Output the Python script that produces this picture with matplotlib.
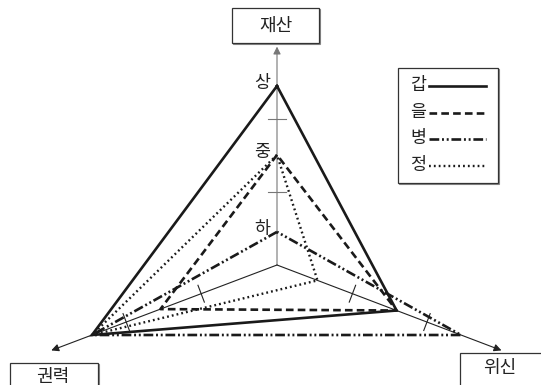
import numpy as np
import matplotlib.pyplot as plt
from matplotlib.patches import Rectangle, FancyArrowPatch

plt.rcParams['font.family'] = ['Noto Sans CJK KR', 'DejaVu Sans']
plt.rcParams['lines.scale_dashes'] = False

# ── Data ─────────────────────────────────────────────────────────────────────
axis_names = ['재산', '권력', '위신']
level_labels = ['하', '중', '상']
level_values = [0.185, 0.615, 1.0]
tick_values = [0.41, 0.815]

series_names = ['갑', '을', '병', '정']
# values on (재산, 권력, 위신), 1.0 = 상
gap_vals = [1.0, 1.0, 0.65]
eul_vals = [0.615, 0.63, 0.65]
byeong_vals = [0.185, 1.0, 1.0]
jeong_vals = [0.615, 1.0, 0.22]
series_vals = [gap_vals, eul_vals, byeong_vals, jeong_vals]

# ── Geometry (pixel space, y down) ───────────────────────────────────────────
W, H = 541, 385
CENTER = np.array([277.0, 265.0])
AXIS_FULL = [np.array([0.0, -179.0]),      # 재산 (up)
             np.array([-185.0, 70.0]),     # 권력 (lower left)
             np.array([184.0, 70.0])]      # 위신 (lower right)
ARROW_EXT = 1.22

STYLES = [
    dict(color='#1a1a1a', lw=1.9, ls='-'),
    dict(color='#1a1a1a', lw=1.9, ls=(0, (5.5, 3.0))),
    dict(color='#1a1a1a', lw=1.9, ls=(0, (7.0, 2.0, 1.4, 2.0, 1.4, 2.0))),
    dict(color='#1a1a1a', lw=1.7, ls=(0, (1.3, 2.2))),
]


def _pt(axis_i, v):
    return CENTER + v * AXIS_FULL[axis_i]


def _label_box(ax, x0, y0, x1, y1, text, tx, ty):
    # faint drop shadow on right/bottom
    ax.add_patch(Rectangle((x0 + 1, y0 + 1), x1 - x0, y1 - y0,
                           facecolor='none', edgecolor='#888888', lw=0.8, zorder=4))
    ax.add_patch(Rectangle((x0, y0), x1 - x0, y1 - y0,
                           facecolor='white', edgecolor='#333333', lw=0.9, zorder=5))
    ax.text(tx, ty, text, ha='center', va='center', fontsize=13,
            color='#222222', zorder=6)


fig = plt.figure(figsize=(W / 100, H / 100), dpi=100, facecolor='white')
ax = fig.add_axes([0, 0, 1, 1])
ax.set_xlim(0, W)
ax.set_ylim(H, 0)
ax.axis('off')

# ── Axes with arrows and tick marks ─────────────────────────────────────────
axis_colors = ['#777777', '#222222', '#222222']
for i in range(3):
    tip = _pt(i, ARROW_EXT)
    ax.add_patch(FancyArrowPatch(tuple(CENTER), tuple(tip),
                                 arrowstyle='-|>', mutation_scale=11,
                                 color=axis_colors[i], lw=0.8,
                                 shrinkA=0, shrinkB=0, zorder=1))
    d = AXIS_FULL[i] / np.linalg.norm(AXIS_FULL[i])
    perp = np.array([-d[1], d[0]])
    for tv in tick_values:
        p = _pt(i, tv)
        a, b = p - 9 * perp, p + 9 * perp
        ax.plot([a[0], b[0]], [a[1], b[1]], color=axis_colors[i], lw=0.8, zorder=1)

for lab, lv in zip(level_labels, level_values):
    p = _pt(0, lv)
    ax.text(p[0] - 15, p[1] - 3, lab, ha='center', va='center',
            fontsize=12.5, color='#222222')

# ── Series triangles ─────────────────────────────────────────────────────────
for vals, st in zip(series_vals, STYLES):
    pts = np.array([_pt(i, v) for i, v in enumerate(vals)] + [_pt(0, vals[0])])
    ax.plot(pts[:, 0], pts[:, 1], color=st['color'], lw=st['lw'],
            linestyle=st['ls'], solid_joinstyle='miter', zorder=3)

# ── Axis name boxes ──────────────────────────────────────────────────────────
_label_box(ax, 232, 8, 319, 43, axis_names[0], 275.5, 25.5)
_label_box(ax, 10, 363, 98, 392, axis_names[1], 53, 377)
_label_box(ax, 460, 353, 548, 392, axis_names[2], 500, 368)

# ── Legend ───────────────────────────────────────────────────────────────────
ax.add_patch(Rectangle((398, 68), 100, 115, facecolor='white',
                       edgecolor='#333333', lw=0.9, zorder=5))
ax.add_patch(Rectangle((399, 69), 100, 115, facecolor='none',
                       edgecolor='#888888', lw=0.8, zorder=4))
for k, (name, st) in enumerate(zip(series_names, STYLES)):
    y = 85 + k * 26.7
    ax.text(418, y, name, ha='center', va='center', fontsize=12.5,
            color='#222222', zorder=6)
    ax.plot([429, 486], [y + 1, y + 1], color=st['color'], lw=st['lw'],
            linestyle=st['ls'], zorder=6)

fig.savefig('out.png', dpi=100, facecolor='white')
